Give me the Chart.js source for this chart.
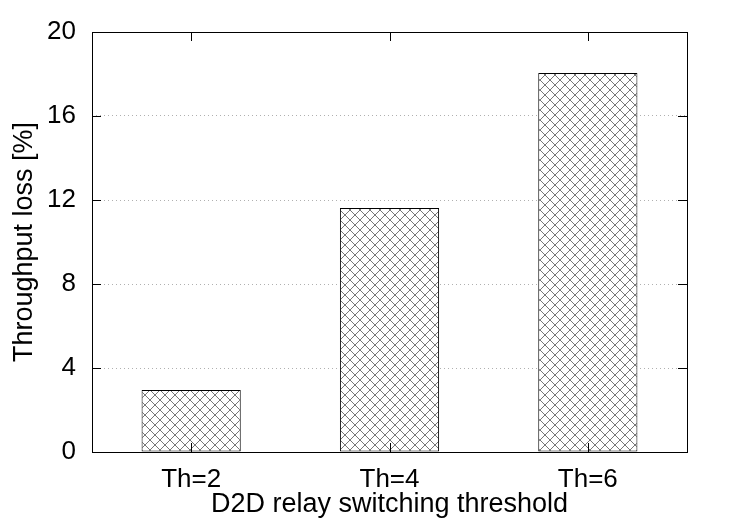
<!DOCTYPE html>
<html>
<head>
<meta charset="utf-8">
<script src="https://cdn.jsdelivr.net/npm/chart.js@4/dist/chart.umd.min.js"></script>
<style>
  html, body { margin: 0; padding: 0; background: #fff; }
  #wrap { width: 750px; height: 525px; }
</style>
</head>
<body>
<div id="wrap"><canvas id="chart" width="750" height="525"></canvas></div>
<script>
// --- data ---
const categories = ['Th=2', 'Th=4', 'Th=6'];
const lossValues = [2.95, 11.62, 18.05];
const yTicks = [0, 4, 8, 12, 16, 20];

// crosshatch fill like gnuplot's pattern
function makeHatch() {
  const c = document.createElement('canvas');
  c.width = 10; c.height = 10;
  const g = c.getContext('2d');
  g.fillStyle = '#fff';
  g.fillRect(0, 0, 10, 10);
  g.strokeStyle = '#555';
  g.lineWidth = 0.8;
  g.beginPath();
  g.moveTo(-1, -1); g.lineTo(11, 11);
  g.moveTo(11, -1); g.lineTo(-1, 11);
  g.stroke();
  return g.createPattern(c, 'repeat');
}

const tickFont = { family: '"Liberation Sans", Arial, sans-serif', size: 26 };
const titleFont = { family: '"Liberation Sans", Arial, sans-serif', size: 27 };

// frame + inward tick marks
const frame = {
  id: 'frame',
  afterDraw(chart) {
    const { ctx, chartArea: a, scales } = chart;
    ctx.save();
    ctx.strokeStyle = '#000';
    ctx.lineWidth = 1;
    ctx.strokeRect(a.left + 0.5, a.top + 0.5, a.right - a.left, a.bottom - a.top);
    ctx.beginPath();
    yTicks.forEach(v => {
      const y = Math.round(scales.y.getPixelForValue(v)) + 0.5;
      ctx.moveTo(a.left, y); ctx.lineTo(a.left + 9, y);
      ctx.moveTo(a.right, y); ctx.lineTo(a.right - 9, y);
    });
    categories.forEach((c, i) => {
      const x = Math.round(scales.x.getPixelForValue(i)) + 0.5;
      ctx.moveTo(x, a.bottom); ctx.lineTo(x, a.bottom - 9);
      ctx.moveTo(x, a.top); ctx.lineTo(x, a.top + 9);
    });
    ctx.stroke();
    ctx.restore();
  }
};

new Chart(document.getElementById('chart'), {
  type: 'bar',
  data: {
    labels: categories,
    datasets: [{
      data: lossValues,
      backgroundColor: makeHatch(),
      borderColor: '#000',
      borderWidth: 1,
      borderSkipped: false,
      barPercentage: 0.5,
      categoryPercentage: 1.0
    }]
  },
  options: {
    responsive: false,
    animation: false,
    layout: { padding: { top: 32, right: 63, left: 0, bottom: 0 } },
    plugins: { legend: { display: false }, tooltip: { enabled: false } },
    scales: {
      x: {
        grid: { display: false },
        border: { display: false },
        ticks: { color: '#000', font: tickFont, padding: 4 },
        title: { display: true, text: 'D2D relay switching threshold', color: '#000', font: titleFont, padding: { top: 0, bottom: 4 } },
        afterFit: s => { s.height = 73; }
      },
      y: {
        min: 0,
        max: 20,
        afterBuildTicks: s => { s.ticks = yTicks.map(v => ({ value: v })); },
        grid: {
          color: ctx => (ctx.tick && (ctx.tick.value === 0 || ctx.tick.value === 20)) ? 'rgba(0,0,0,0)' : '#b0b0b0',
          lineWidth: 1,
          drawTicks: false
        },
        border: { display: false, dash: [1, 3] },
        ticks: { color: '#000', font: tickFont, padding: 16 },
        title: { display: true, text: 'Throughput loss [%]', color: '#000', font: titleFont, padding: { top: 8, bottom: 0 } },
        afterFit: s => { s.width = 92; }
      }
    }
  },
  plugins: [frame]
});
</script>
</body>
</html>
